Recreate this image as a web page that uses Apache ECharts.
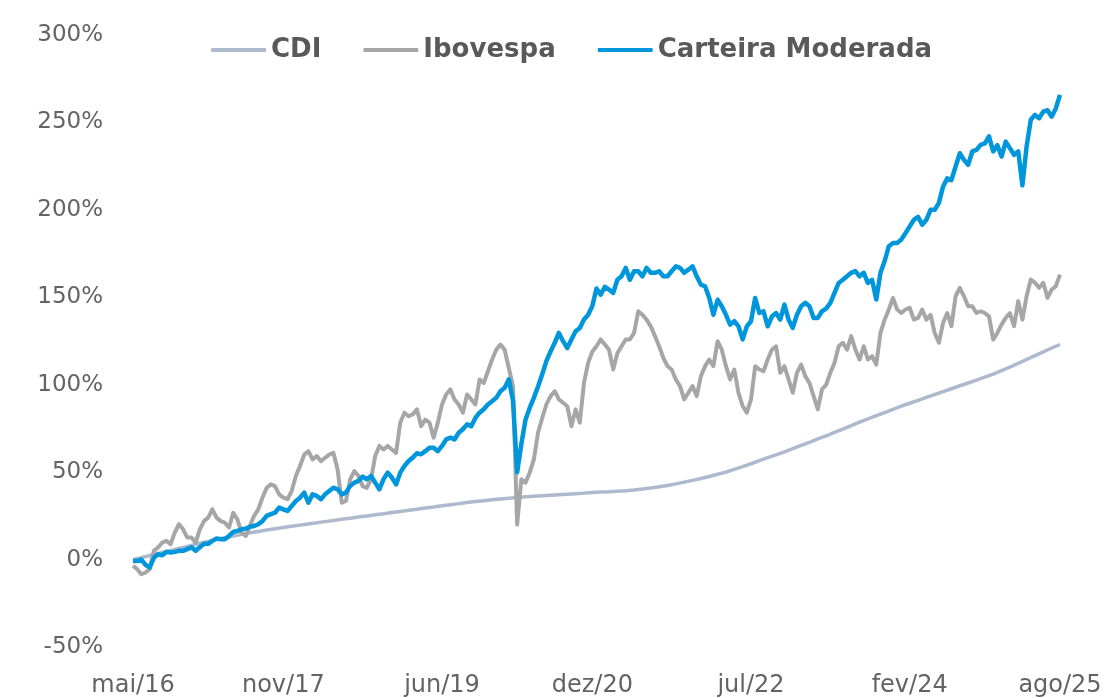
<!DOCTYPE html>
<html>
<head>
<meta charset="utf-8">
<title>CDI x Ibovespa x Carteira Moderada</title>
<script src="https://cdn.jsdelivr.net/npm/echarts/dist/echarts.min.js"></script>
<style>
  html, body { margin: 0; padding: 0; background: #fff; }
  #main { width: 1112px; height: 698px; }
</style>
</head>
<body>
<div id="main"></div>
<script>
// meses de mai/16 a ago/25 (112 meses), pontos quinzenais
var monthNames = ['jan', 'fev', 'mar', 'abr', 'mai', 'jun', 'jul', 'ago', 'set', 'out', 'nov', 'dez'];
var shownLabels = ['mai/16', 'nov/17', 'jun/19', 'dez/20', 'jul/22', 'fev/24', 'ago/25'];

// CDI acumulado (%), um valor por mês
var cdi = [
  0, 1.1, 2.3, 3.5, 4.6, 5.8, 6.9, 8.1,
  9.3, 10.4, 11.5, 12.5, 13.5, 14.4, 15.3, 16.1, 16.9, 17.6, 18.3, 19.0,
  19.7, 20.4, 21.0, 21.7, 22.3, 23.0, 23.6, 24.3, 24.9, 25.6, 26.2, 26.9,
  27.5, 28.2, 28.8, 29.5, 30.1, 30.8, 31.4, 32.0, 32.6, 33.2, 33.7, 34.2,
  34.7, 35.1, 35.5, 35.9, 36.2, 36.5, 36.8, 37.1, 37.4, 37.7, 38.0, 38.3,
  38.6, 38.8, 39.1, 39.4, 39.8, 40.3, 40.9, 41.6, 42.4, 43.3, 44.3, 45.3,
  46.4, 47.5, 48.8, 50.0, 51.6, 53.2, 54.8, 56.6, 58.3, 59.9, 61.6, 63.4,
  65.3, 67.0, 69.0, 70.8, 72.7, 74.6, 76.6, 78.6, 80.5, 82.3, 84.1, 85.9,
  87.7, 89.4, 91.1, 92.8, 94.4, 96.0, 97.7, 99.4, 101.0, 102.6, 104.3, 106.0,
  108.1, 110.1, 112.2, 114.4, 116.6, 118.8, 121.0, 123.0
];

// Ibovespa acumulado (%), dois valores por mês (início e meio)
var ibovespa = [
  -3.6, -5.5, -8.4, -7.4, -5.5, 5, 6.9, 9.7, 10.7, 8.8,
  15.4, 20.2, 17.3, 12.6, 12.6, 9.7, 17.3, 22, 24, 28.7,
  24, 22, 21.1, 18.3, 26.8, 23, 15.4, 13.5, 19.2, 25,
  28.7, 35.4, 41, 43, 42, 37.3, 35.4, 34.5, 39.2, 47.8,
  53.5, 60, 62, 57.3, 59.2, 56.3, 58.2, 60, 61, 51.5,
  32.5, 33.5, 45.9, 50.6, 47.8, 42, 41, 46, 59.2, 65,
  63, 65, 63, 61, 78.3, 84, 82, 83, 85.9, 76.3,
  80, 78.3, 69.7, 78.3, 88.7, 94.4, 97.3, 91.6, 88.7, 84,
  94.4, 91.6, 88.7, 103, 101, 107.7, 114.4, 120, 123, 120,
  109.6, 99, 20, 45.9, 44, 49.7, 57.3, 72.5, 81, 88.7,
  93.5, 96.3, 91.6, 89.7, 87.7, 76.3, 85.9, 78.3, 101, 112.5,
  119, 122, 125.9, 123, 120, 108.7, 118, 122, 125.9, 125.9,
  129.6, 142, 140, 137.2, 133.4, 127.8, 122, 115.4, 110.6, 108.7,
  103, 99.2, 91.6, 95.4, 99.2, 93.5, 104.9, 110.6, 114.4, 110.6,
  124.9, 120, 110.6, 103, 108.7, 95.4, 87.8, 84, 91.6, 110.6,
  108.7, 107.7, 114.4, 120, 122, 106.8, 110.6, 103, 95.4, 106.8,
  111.5, 104.9, 101, 93.5, 85.9, 97.3, 100, 106.8, 112.5, 122,
  124, 120, 127.8, 120, 114.4, 122, 114.4, 116.3, 111.5, 129.6,
  137.2, 143, 149.6, 143, 141, 143, 144, 137.2, 138.2, 143,
  137.2, 140, 129.6, 124, 135.4, 141, 133.5, 150.6, 155.4, 150.6,
  144.9, 144.9, 141, 142, 141, 139.1, 125.8, 129.6, 134.4, 138.2,
  141, 133.5, 147.8, 137.2, 150.6, 160.2, 158.3, 155.4, 158.3, 149.7,
  154.4, 156.3, 163
];

// Carteira Moderada acumulada (%), dois valores por mês (início e meio)
var carteira = [
  -0.8, -0.8, 0, -3, -4.5, 1, 3, 2.5, 4.4, 4,
  4.4, 5, 5, 6, 7, 5, 7, 9, 9, 10.7,
  12, 11.6, 11.6, 13.5, 15.8, 16.4, 17.3, 17.7, 18.8, 19.2,
  20.2, 22, 25, 26, 26.8, 29.7, 28.7, 27.8, 30.6, 33.5,
  35.4, 38.3, 32.5, 37.3, 36.4, 34.5, 37.3, 39.2, 41.1, 40.2,
  37.3, 38.3, 42, 44, 45, 47.5, 45.9, 47.8, 44, 40.2,
  46, 49.7, 46.9, 43, 49.7, 53.5, 56.4, 58.3, 60.8, 60.2,
  62, 64, 64, 62, 65, 68.7, 69.7, 68.7, 72.5, 74.5,
  77.3, 76.3, 81, 84, 86, 88.7, 90.6, 92.5, 96.3, 98.2,
  103, 91, 50, 66, 80, 86.7, 92.5, 99, 106, 113.5,
  119, 124, 129.6, 124.9, 121, 125.8, 130.6, 132.5, 137.3, 140,
  145, 155, 151.5, 156, 154.4, 152.5, 160, 162, 166.8, 160,
  164.9, 164.9, 162, 166.8, 164, 164, 164.9, 162, 162, 164.9,
  167.7, 166.8, 164, 165.8, 167.7, 162, 157.2, 156.3, 149.6, 140,
  148.6, 144.9, 140, 134.4, 136.3, 133.4, 125.9, 133.4, 136.3, 149.6,
  141, 142, 133.4, 139, 141, 137.2, 145.8, 137.2, 132.5, 140,
  144.9, 146.8, 144.9, 138.2, 138.2, 142, 143.5, 146.8, 152.5, 158.2,
  160, 162, 164, 165, 162, 164, 158.2, 160, 148.7, 164,
  170.6, 179.2, 181, 181, 183, 186.7, 190.5, 194.3, 196, 191.5,
  194.3, 200, 200, 204, 213.4, 218, 217, 224.8, 232.4, 228.6,
  225.8, 233.4, 234.3, 237.2, 238, 242, 233.4, 237, 230.5, 239,
  235.3, 231.5, 233.4, 214, 236.2, 251.5, 254.3, 252.4, 256.2, 257,
  253.3, 258, 265.8
];

// eixo quinzenal: posição par = início do mês, ímpar = meio do mês
var categories = [];
var cdiSeries = [];
for (var i = 0; i < cdi.length; i++) {
  var m = (4 + i) % 12;
  var y = 16 + Math.floor((4 + i) / 12);
  var label = monthNames[m] + '/' + y;
  categories.push(label);
  cdiSeries.push(cdi[i]);
  if (i < cdi.length - 1) {
    categories.push('15 ' + label);
    cdiSeries.push(null);
  }
}

var chart = echarts.init(document.getElementById('main'));
var textColor = '#595959';
var option = {
  backgroundColor: '#ffffff',
  animation: false,
  legend: {
    top: 32,
    left: 206,
    icon: 'roundRect',
    itemWidth: 55,
    itemHeight: 4,
    itemGap: 42,
    textStyle: {
      color: textColor,
      fontFamily: 'DejaVu Sans',
      fontWeight: 'bold',
      fontSize: 26
    },
    data: ['CDI', 'Ibovespa', 'Carteira Moderada']
  },
  grid: {
    left: 133,
    right: 52,
    top: 35,
    bottom: 50
  },
  xAxis: {
    type: 'category',
    boundaryGap: false,
    data: categories,
    axisLine: { show: false },
    axisTick: { show: false },
    splitLine: { show: false },
    axisLabel: {
      margin: 27,
      color: '#636363',
      fontFamily: 'DejaVu Sans',
      fontSize: 24,
      interval: function (index, value) {
        return shownLabels.indexOf(value) >= 0;
      }
    }
  },
  yAxis: {
    type: 'value',
    min: -50,
    max: 300,
    interval: 50,
    axisLine: { show: false },
    axisTick: { show: false },
    splitLine: { show: false },
    axisLabel: {
      margin: 30,
      color: '#636363',
      fontFamily: 'DejaVu Sans',
      fontSize: 23,
      formatter: '{value}%'
    }
  },
  series: [
    {
      name: 'CDI',
      type: 'line',
      data: cdiSeries,
      connectNulls: true,
      showSymbol: false,
      symbol: 'none',
      lineStyle: { color: '#adb9cc', width: 3.5 },
      itemStyle: { color: '#adb9cc' }
    },
    {
      name: 'Ibovespa',
      type: 'line',
      data: ibovespa,
      showSymbol: false,
      symbol: 'none',
      lineStyle: { color: '#a6a6a6', width: 4, join: 'round' },
      itemStyle: { color: '#a6a6a6' }
    },
    {
      name: 'Carteira Moderada',
      type: 'line',
      data: carteira,
      showSymbol: false,
      symbol: 'none',
      lineStyle: { color: '#0096dc', width: 4.5, join: 'round' },
      itemStyle: { color: '#0096dc' }
    }
  ]
};
chart.setOption(option);
</script>
</body>
</html>
